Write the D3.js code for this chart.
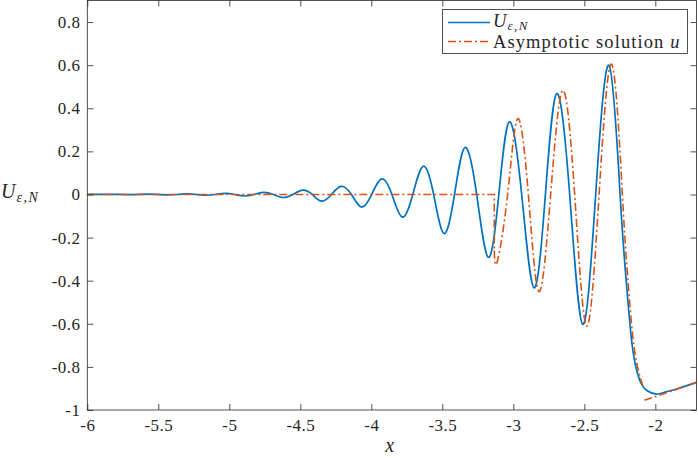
<!DOCTYPE html>
<html>
<head>
<meta charset="utf-8">
<script src="https://cdn.jsdelivr.net/npm/d3@7"></script>
<style>
    body { margin: 0; background: #fff; }
    text { font-family: "Liberation Serif", "DejaVu Serif", serif; fill: #262626; }
</style>
</head>
<body>
<svg id="chart" width="698" height="458"></svg>
<script>
// numerical solution U_{eps,N} (extrema and zero crossings)
var blueX = [-6, -5.775, -5.705, -5.6375, -5.57, -5.5025, -5.435, -5.3675, -5.3, -5.2325,
    -5.165, -5.0975, -5.03, -4.9625, -4.895, -4.8275, -4.76, -4.69, -4.62, -4.552,
    -4.483, -4.416, -4.349, -4.281, -4.213, -4.14, -4.068, -3.997, -3.927, -3.855,
    -3.782, -3.708, -3.634, -3.561, -3.488, -3.414, -3.34, -3.258, -3.176, -3.102,
    -3.028, -2.941, -2.854, -2.774, -2.694, -2.603, -2.511, -2.42, -2.326, -2.248,
    -2.205, -2.17, -2.14, -2.105, -2.054, -1.993, -1.935, -1.84, -1.71];
var blueY = [0, 0, -0.0008, 0, 0.0012, 0, -0.0017, 0, 0.0025, 0,
    -0.0035, 0, 0.005, 0, -0.007, 0, 0.01, 0, -0.014, 0,
    0.02, 0, -0.031, 0, 0.038, 0, -0.059, 0, 0.072, 0,
    -0.105, 0, 0.131, 0, -0.181, 0, 0.218, 0, -0.292, 0,
    0.337, 0, -0.433, 0, 0.468, 0, -0.603, 0, 0.599, 0,
    -0.4, -0.66, -0.79, -0.87, -0.912, -0.926, -0.918, -0.9, -0.872];

// asymptotic solution u, in three pieces (it jumps twice)
var uFlatX = [-6, -3.134, -3.134];
var uFlatY = [0, 0, -0.26];
var uWaveX = [-3.134, -3.113, -3.04, -2.969, -2.894, -2.819, -2.737, -2.652, -2.568,
    -2.483, -2.396, -2.307, -2.232, -2.195, -2.16, -2.125, -2.085];
var uWaveY = [-0.26, -0.312, 0, 0.352, 0, -0.451, 0, 0.483, 0,
    -0.61, 0, 0.604, 0, -0.38, -0.65, -0.8, -0.895];
var uTailX = [-2.077, -1.9, -1.71];
var uTailY = [-0.955, -0.915, -0.872];

var xTicks = [-6, -5.5, -5, -4.5, -4, -3.5, -3, -2.5, -2];
var yTicks = [-1, -0.8, -0.6, -0.4, -0.2, 0, 0.2, 0.4, 0.6, 0.8];

var box = { left: 87.3, right: 696.5, top: 0.5, bottom: 410 };
var colors = { blue: '#0072BD', orange: '#D95319', axis: '#262626' };

var svg = d3.select('#chart');
var x = d3.scaleLinear().domain([-6, -1.71]).range([box.left, box.right]);
var y = d3.scaleLinear().domain([-1, 0.9]).range([box.bottom, box.top]);

function fmt(d) { return String(+d.toFixed(1)); }

function zip(xs, ys) {
    return xs.map(function (v, i) { return [v, ys[i]]; });
}

var plot = svg.append('g');
svg.append('clipPath').attr('id', 'clip').append('rect')
    .attr('x', box.left).attr('y', box.top)
    .attr('width', box.right - box.left).attr('height', box.bottom - box.top);
plot.attr('clip-path', 'url(#clip)');

var natural = d3.line().x(function (d) { return x(d[0]); }).y(function (d) { return y(d[1]); })
    .curve(d3.curveNatural);
var straight = d3.line().x(function (d) { return x(d[0]); }).y(function (d) { return y(d[1]); });

plot.append('path')
    .attr('d', natural(zip(blueX, blueY)))
    .attr('fill', 'none').attr('stroke', colors.blue).attr('stroke-width', 1.7);

var dash = '8,3,2,3';
[[uFlatX, uFlatY, straight], [uWaveX, uWaveY, natural], [uTailX, uTailY, natural]].forEach(function (s) {
    plot.append('path')
        .attr('d', s[2](zip(s[0], s[1])))
        .attr('fill', 'none').attr('stroke', colors.orange).attr('stroke-width', 1.6)
        .attr('stroke-dasharray', dash);
});

// axes, ticks pointing inward, box on
var tick = 6;
function styleAxis(g) {
    g.select('.domain').remove();
    g.selectAll('line').attr('stroke', colors.axis).attr('stroke-width', 0.8);
    g.selectAll('text').attr('font-size', 17).attr('fill', colors.axis)
        .attr('letter-spacing', 0.4)
        .style('font-family', '"Liberation Serif", serif');
}
svg.append('g').attr('transform', 'translate(0,' + box.bottom + ')')
    .call(d3.axisBottom(x).tickValues(xTicks).tickFormat(fmt).tickSize(-tick).tickPadding(9))
    .call(styleAxis);
svg.append('g').attr('transform', 'translate(0,' + box.top + ')')
    .call(d3.axisTop(x).tickValues(xTicks).tickFormat('').tickSize(-tick))
    .call(styleAxis);
svg.append('g').attr('transform', 'translate(' + box.left + ',0)')
    .call(d3.axisLeft(y).tickValues(yTicks).tickFormat(fmt).tickSize(-tick).tickPadding(7))
    .call(styleAxis);
svg.append('g').attr('transform', 'translate(' + box.right + ',0)')
    .call(d3.axisRight(y).tickValues(yTicks).tickFormat('').tickSize(-tick))
    .call(styleAxis);

svg.append('rect')
    .attr('x', box.left).attr('y', box.top)
    .attr('width', box.right - box.left).attr('height', box.bottom - box.top)
    .attr('fill', 'none').attr('stroke', colors.axis).attr('stroke-width', 0.8);

// axis labels
svg.append('text').attr('x', x(-3.87)).attr('y', 452).attr('text-anchor', 'middle')
    .attr('font-size', 20).attr('font-style', 'italic').text('x');

var yl = svg.append('text').attr('x', 1).attr('y', 198).attr('font-size', 20);
yl.append('tspan').attr('font-style', 'italic').text('U');
yl.append('tspan').attr('font-size', 14).attr('dy', 4).attr('dx', 1).attr('font-style', 'italic')
    .attr('letter-spacing', 1.5).text('ε,N');

// legend
var leg = svg.append('g');
leg.append('rect').attr('x', 442.5).attr('y', 9.5).attr('width', 245).attr('height', 44)
    .attr('fill', '#fff').attr('stroke', colors.axis).attr('stroke-width', 0.8);
leg.append('line').attr('x1', 448).attr('x2', 490).attr('y1', 22.5).attr('y2', 22.5)
    .attr('stroke', colors.blue).attr('stroke-width', 1.7);
leg.append('line').attr('x1', 448).attr('x2', 490).attr('y1', 41.5).attr('y2', 41.5)
    .attr('stroke', colors.orange).attr('stroke-width', 1.6).attr('stroke-dasharray', dash);
var l1 = leg.append('text').attr('x', 493).attr('y', 27).attr('font-size', 18.5);
l1.append('tspan').attr('font-style', 'italic').text('U');
l1.append('tspan').attr('font-size', 13).attr('dy', 3).attr('dx', 1).attr('font-style', 'italic')
    .attr('letter-spacing', 1.5).text('ε,N');
var l2 = leg.append('text').attr('x', 493).attr('y', 48).attr('font-size', 18.5)
    .attr('letter-spacing', 1.1);
l2.append('tspan').text('Asymptotic solution ');
l2.append('tspan').attr('font-style', 'italic').text('u');
</script>
</body>
</html>
